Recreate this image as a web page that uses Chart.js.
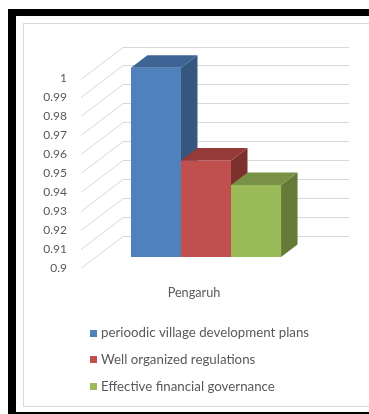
<!DOCTYPE html>
<html>
<head>
<meta charset="utf-8">
<script src="https://cdn.jsdelivr.net/npm/chart.js@4/dist/chart.umd.min.js"></script>
<style>
  html, body { margin: 0; padding: 0; background: #fff; width: 369px; height: 414px; overflow: hidden; }
  .frame { position: absolute; left: 8px; top: 9px; width: 420px; height: 405px; box-sizing: border-box;
           border-left: 8px solid #000; border-top: 7px solid #000; border-bottom: 2px solid #000; }
  .inner { position: absolute; left: 23px; top: 23px; width: 420px; height: 384px; box-sizing: border-box;
           border: 1px solid #d9d9d9; }
  #wrap { position: absolute; left: 0; top: 0; width: 369px; height: 414px; }
</style>
</head>
<body>
<div class="frame"></div>
<div class="inner"></div>
<div id="wrap"><canvas id="c" width="369" height="414"></canvas></div>
<script>
// Data
const categories = ['Pengaruh'];
const seriesNames = [
  'perioodic village development plans',
  'Well organized regulations',
  'Effective financial governance'
];
const planValues = [1.0];
const regulationValues = [0.951];
const governanceValues = [0.938];
const yTickLabels = ['0.9', '0.91', '0.92', '0.93', '0.94', '0.95', '0.96', '0.97', '0.98', '0.99', '1'];
const axisMin = 0.9;
const axisMax = 1.0;

// Face colours (front / top / side) for each series
const frontColors = ['#4F81BD', '#C0504D', '#9BBB59'];
const topColors   = ['#3D6494', '#943B39', '#789145'];
const sideColors  = ['#34567F', '#7C312F', '#657A38'];

// 3D geometry
const WALL_DEPTH = { x: 42, y: -32 };     // side wall / floor depth
const BAR_SHIFT  = { x: 12, y: -10.7 };   // bars stand a third of the way into the box
const BAR_DEPTH  = { x: 16.5, y: -12.5 }; // thickness of each bar
const TEXT_COLOR = '#595959';
const FONT_FAMILY = 'Lato, "Open Sans", sans-serif';

Chart.defaults.font.family = FONT_FAMILY;
Chart.defaults.font.size = 12;
Chart.defaults.color = TEXT_COLOR;

const pseudo3d = {
  id: 'pseudo3d',
  beforeDatasetsDraw(chart) {
    const { ctx, chartArea: a, scales: { y } } = chart;
    // back wall and side wall gridlines
    ctx.save();
    ctx.strokeStyle = '#d9d9d9';
    ctx.lineWidth = 1;
    y.ticks.forEach(t => {
      const py = Math.round(y.getPixelForValue(t.value)) + 0.5;
      ctx.beginPath();
      ctx.moveTo(a.left, py);
      ctx.lineTo(a.left + WALL_DEPTH.x, py + WALL_DEPTH.y);
      ctx.lineTo(a.right + WALL_DEPTH.x, py + WALL_DEPTH.y);
      ctx.stroke();
    });
    ctx.restore();

    // bars are drawn pushed back into the box
    ctx.save();
    ctx.translate(BAR_SHIFT.x, BAR_SHIFT.y);
    const dx = BAR_DEPTH.x, dy = BAR_DEPTH.y;
    chart.data.datasets.forEach((ds, i) => {
      chart.getDatasetMeta(i).data.forEach(bar => {
        const { x, y: top, base, width } = bar.getProps(['x', 'y', 'base', 'width'], true);
        const l = x - width / 2, r = x + width / 2;
        // right side face
        ctx.fillStyle = sideColors[i];
        ctx.beginPath();
        ctx.moveTo(r, top);
        ctx.lineTo(r + dx, top + dy);
        ctx.lineTo(r + dx, base + dy);
        ctx.lineTo(r, base);
        ctx.closePath();
        ctx.fill();
        // top face
        ctx.fillStyle = topColors[i];
        ctx.beginPath();
        ctx.moveTo(l, top);
        ctx.lineTo(l + dx, top + dy);
        ctx.lineTo(r + dx, top + dy);
        ctx.lineTo(r, top);
        ctx.closePath();
        ctx.fill();
      });
    });
  },
  afterDatasetsDraw(chart) {
    chart.ctx.restore();
  },
  afterDraw(chart) {
    // vertical legend under the axis label
    const ctx = chart.ctx;
    ctx.save();
    ctx.font = '13.3px ' + FONT_FAMILY;
    ctx.textBaseline = 'middle';
    chart.data.datasets.forEach((ds, i) => {
      const cy = 333 + i * 26.8;
      ctx.fillStyle = ds.backgroundColor;
      ctx.fillRect(90, Math.round(cy - 3.5), 7, 7);
      ctx.fillStyle = TEXT_COLOR;
      ctx.fillText(ds.label, 101, cy);
    });
    ctx.restore();
  }
};

new Chart(document.getElementById('c'), {
  type: 'bar',
  data: {
    labels: categories,
    datasets: [
      { label: seriesNames[0], data: planValues, backgroundColor: frontColors[0] },
      { label: seriesNames[1], data: regulationValues, backgroundColor: frontColors[1] },
      { label: seriesNames[2], data: governanceValues, backgroundColor: frontColors[2] }
    ].map(d => Object.assign(d, {
      base: axisMin, borderWidth: 0, clip: false, barPercentage: 1, categoryPercentage: 0.664
    }))
  },
  options: {
    responsive: false,
    devicePixelRatio: 1,
    animation: false,
    events: [],
    layout: { padding: { left: 0, right: 62, top: 78.5, bottom: 101.3 } },
    plugins: { legend: { display: false }, tooltip: { enabled: false } },
    scales: {
      x: {
        grid: { display: false },
        border: { display: false },
        ticks: { padding: 10, font: { size: 12.7 } },
        afterFit(scale) { scale.height = 45; }
      },
      y: {
        min: axisMin,
        max: axisMax,
        grid: { display: false, drawTicks: false },
        border: { display: false },
        ticks: {
          stepSize: 0.01,
          padding: 14,
          font: { size: 12 },
          callback: (v, i) => yTickLabels[i]
        },
        afterFit(scale) { scale.width = 81; }
      }
    }
  },
  plugins: [pseudo3d]
});
</script>
</body>
</html>
